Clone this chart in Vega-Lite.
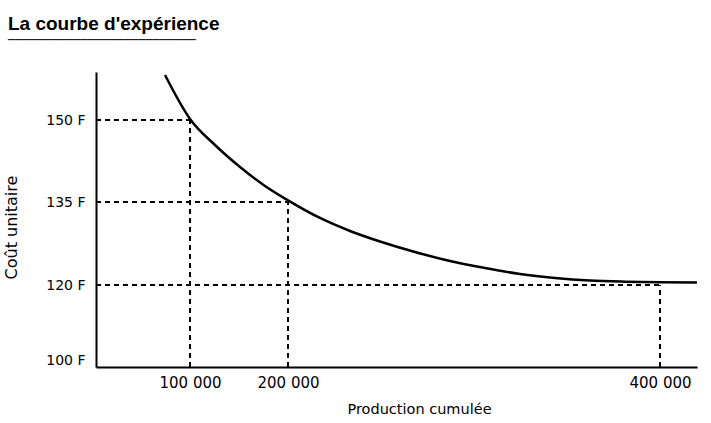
{
  "$schema": "https://vega.github.io/schema/vega-lite/v6.json",
  "width": 601,
  "height": 295,
  "autosize": "none",
  "padding": {"left": 96, "top": 72, "right": 14, "bottom": 56},
  "background": "white",
  "config": {"view": {"stroke": null}, "font": "DejaVu Sans"},
  "title": {
    "text": "La courbe d'expérience",
    "subtitle": "──────────────────────────",
    "anchor": "start",
    "frame": "group",
    "dx": -88,
    "offset": 24,
    "font": "Liberation Sans",
    "fontSize": 19,
    "fontWeight": "bold",
    "color": "black",
    "subtitleFont": "DejaVu Sans Mono",
    "subtitleFontSize": 12,
    "subtitleColor": "black",
    "subtitlePadding": 1
  },
  "datasets": {
    "guides": [
      {"x": 0, "x2": 100000, "y": 150, "y2": 150},
      {"x": 0, "x2": 200000, "y": 135, "y2": 135},
      {"x": 0, "x2": 400000, "y": 120, "y2": 120},
      {"x": 100000, "x2": 100000, "y": 100, "y2": 150},
      {"x": 200000, "x2": 200000, "y": 100, "y2": 135},
      {"x": 400000, "x2": 400000, "y": 100, "y2": 120}
    ],
    "curve": [
      {"x": 73400, "y": 158.44},
      {"x": 100000, "y": 150.2},
      {"x": 125510, "y": 145.43},
      {"x": 151020, "y": 141.4},
      {"x": 176530, "y": 137.93},
      {"x": 200000, "y": 135.3},
      {"x": 217200, "y": 132.11},
      {"x": 233330, "y": 129.76},
      {"x": 249460, "y": 127.86},
      {"x": 268280, "y": 125.96},
      {"x": 287100, "y": 124.34},
      {"x": 305910, "y": 123.07},
      {"x": 324730, "y": 121.99},
      {"x": 343550, "y": 121.27},
      {"x": 362370, "y": 120.81},
      {"x": 381180, "y": 120.6},
      {"x": 400000, "y": 120.49},
      {"x": 420000, "y": 120.45}
    ]
  },
  "layer": [
    {
      "data": {"name": "guides"},
      "mark": {"type": "rule", "strokeDash": [5, 4], "strokeWidth": 2, "color": "black"},
      "encoding": {
        "x": {
          "field": "x",
          "type": "quantitative",
          "scale": {"type": "linear", "domain": [0, 100000, 200000, 400000, 420000], "range": [0, 94, 192, 564, 601], "nice": false, "zero": false},
          "axis": {
            "values": [100000, 200000, 400000],
            "labelExpr": "replace(format(datum.value, ','), ',', ' ')",
            "title": "Production cumulée",
            "ticks": false,
            "tickSize": 0,
            "grid": false,
            "domainColor": "black",
            "domainWidth": 2,
            "labelFontSize": 15,
            "labelColor": "black",
            "labelPadding": 8,
            "labelFlush": false,
            "titleFontSize": 14.5,
            "titleFontWeight": "normal",
            "titleColor": "black",
            "titleX": 323,
            "titleY": 35
          }
        },
        "x2": {"field": "x2"},
        "y": {
          "field": "y",
          "type": "quantitative",
          "scale": {"type": "linear", "domain": [100, 120, 135, 150, 159], "range": [295, 213, 130, 48, 0], "nice": false, "zero": false},
          "axis": {
            "values": [100, 120, 135, 150],
            "labelExpr": "datum.value + ' F'",
            "title": "Coût unitaire",
            "ticks": false,
            "tickSize": 0,
            "grid": false,
            "domainColor": "black",
            "domainWidth": 2,
            "labelFontSize": 14,
            "labelColor": "black",
            "labelPadding": 11,
            "labelFlush": true,
            "titleFontSize": 16,
            "titleFontWeight": "normal",
            "titleColor": "black",
            "titleX": -77,
            "titleY": 155
          }
        },
        "y2": {"field": "y2"}
      }
    },
    {
      "data": {"name": "curve"},
      "mark": {"type": "line", "color": "black", "strokeWidth": 2.5, "interpolate": "monotone"},
      "encoding": {
        "x": {"field": "x", "type": "quantitative"},
        "y": {"field": "y", "type": "quantitative"}
      }
    }
  ]
}
